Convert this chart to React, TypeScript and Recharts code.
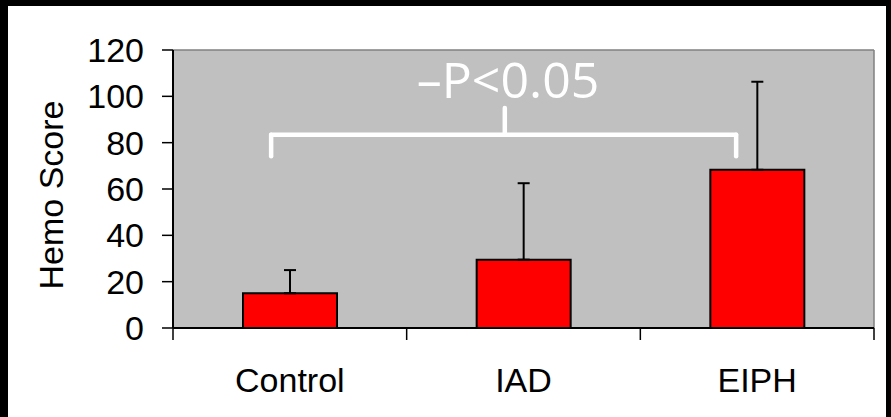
import React from "react";
import {
  BarChart,
  Bar,
  XAxis,
  YAxis,
  CartesianGrid,
  ErrorBar,
  ReferenceLine,
  ReferenceDot,
} from "recharts";

const categories = ["Control", "IAD", "EIPH"];
const means = [15, 29.5, 68.3];
const upperErrors = [10, 33, 38];
const yTicks = [0, 20, 40, 60, 80, 100, 120];

// significance bracket (in axis units)
const bracketLeft = 0.42;
const bracketRight = 2.41;
const bracketMid = 1.42;
const bracketY = 83.4;
const bracketLegBottom = 74.1;
const bracketTickTop = 95;
const pLabel = "\u2013P<0.05";

const rows = categories.map((name, i) => ({
  name,
  x: i + 0.5,
  value: means[i],
  err: [0, upperErrors[i]],
}));

const xTicks = [0, 0.5, 1, 1.5, 2, 2.5, 3];

const FONT = "'Liberation Sans', Arial, sans-serif";

function XTick(props: any) {
  const { x, y, payload } = props;
  const v = payload.value as number;
  if (Number.isInteger(v)) {
    return <line x1={x} y1={y} x2={x} y2={y + 12} stroke="#000" strokeWidth={1.5} />;
  }
  return (
    <text x={x} y={y + 64} textAnchor="middle" fontSize={34} fill="#000" fontFamily={FONT}>
      {categories[Math.floor(v)]}
    </text>
  );
}

export default function App() {
  const bracket = { stroke: "#fff", strokeWidth: 4.5, strokeLinecap: "round" as const };
  return (
    <div style={{ position: "absolute", left: 0, top: 0, width: 891, height: 417, background: "#000" }}>
      <div style={{ position: "absolute", left: 8, top: 6, width: 878, height: 411, background: "#fff" }}>
        <BarChart
          width={878}
          height={411}
          data={rows}
          margin={{ top: 44, right: 12, bottom: 29, left: 65 }}
          style={{ fontFamily: FONT }}
        >
          <CartesianGrid fill="#C0C0C0" stroke="none" horizontal={false} vertical={false} />
          <XAxis
            dataKey="x"
            type="number"
            domain={[0, 3]}
            ticks={xTicks}
            interval={0}
            height={60}
            tickSize={0}
            tickMargin={0}
            tickLine={false}
            axisLine={{ stroke: "#000", strokeWidth: 2 }}
            tick={<XTick />}
          />
          <YAxis
            type="number"
            domain={[0, 120]}
            ticks={yTicks}
            interval={0}
            width={100}
            tickSize={11}
            tickMargin={18}
            axisLine={{ stroke: "#000", strokeWidth: 2 }}
            tickLine={{ stroke: "#000", strokeWidth: 1.5 }}
            tick={{ fill: "#000", fontSize: 34, fontFamily: FONT }}
            label={{
              content: () => (
                <text
                  x={55}
                  y={189}
                  transform="rotate(-90 55 189)"
                  textAnchor="middle"
                  fontSize={34}
                  fill="#000"
                  fontFamily={FONT}
                >
                  Hemo Score
                </text>
              ),
            }}
          />
          <ReferenceLine y={120} stroke="#808080" strokeWidth={1.5} />
          <ReferenceLine x={3} stroke="#808080" strokeWidth={1.5} />
          <Bar dataKey="value" fill="#FF0000" stroke="#000" strokeWidth={2} barSize={94} isAnimationActive={false}>
            <ErrorBar dataKey="err" direction="y" width={6} stroke="#000" strokeWidth={2} />
          </Bar>
          <ReferenceLine segment={[{ x: bracketLeft, y: bracketY }, { x: bracketRight, y: bracketY }]} {...bracket} />
          <ReferenceLine segment={[{ x: bracketLeft, y: bracketY }, { x: bracketLeft, y: bracketLegBottom }]} {...bracket} />
          <ReferenceLine segment={[{ x: bracketRight, y: bracketY }, { x: bracketRight, y: bracketLegBottom }]} {...bracket} />
          <ReferenceLine segment={[{ x: bracketMid, y: bracketY }, { x: bracketMid, y: bracketTickTop }]} {...bracket} />
          <ReferenceDot
            x={1.434}
            y={106.9}
            r={0}
            stroke="none"
            fill="none"
            label={{
              value: pLabel,
              position: "center",
              fill: "#fff",
              fontSize: 50,
              fontFamily: "'Open Sans', sans-serif",
            }}
          />
        </BarChart>
      </div>
    </div>
  );
}
